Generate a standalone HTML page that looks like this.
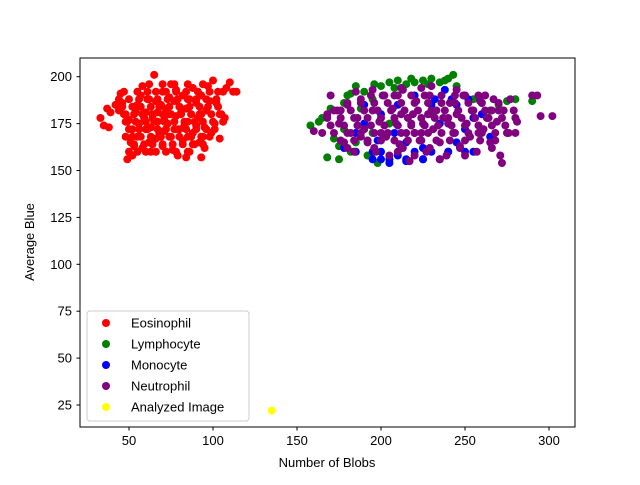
<!DOCTYPE html>
<html><head><meta charset="utf-8"><style>
body{margin:0;background:#fff}
svg{font-family:"Liberation Sans","DejaVu Sans",sans-serif}
</style></head><body>
<svg id="chart" width="640" height="480" xmlns="http://www.w3.org/2000/svg">
<rect x="0" y="0" width="640" height="480" fill="#fff"/>
<g id="marks"></g>
<rect x="80" y="58" width="495" height="369" fill="none" stroke="#000" stroke-width="1"/>
<g id="ticks" font-size="13"></g>
<text x="327" y="467" font-size="13" text-anchor="middle">Number of Blobs</text>
<text x="34" y="242" font-size="13" text-anchor="middle" transform="rotate(-90 34 242)">Average Blue</text>
<g id="legend">
<rect x="87" y="311" width="162" height="110" rx="3" fill="#fff" fill-opacity="0.8" stroke="#ccc"/>
</g>
</svg>
<script>
const xTicks=[50,100,150,200,250,300];
const yTicks=[25,50,75,100,125,150,175,200];
const seriesNames=["Eosinophil","Lymphocyte","Monocyte","Neutrophil","Analyzed Image"];
const seriesColors=["red","green","blue","purple","yellow"];
const eosinophil=[[33,178],[35,174],[38,173],[37,183],[39,181],[42,185],[44,188],[45,191],[47,192],[48,180],[49,176],[50,160],[49,156],[52,158],[53,163],[55,168],[55,185],[57,190],[58,195],[60,181],[60,172],[62,165],[63,160],[65,201],[66,187],[67,176],[68,170],[70,163],[70,192],[72,183],[73,175],[75,168],[75,196],[77,187],[78,179],[79,158],[80,172],[82,166],[82,190],[84,183],[85,176],[86,160],[88,194],[88,170],[90,186],[91,178],[92,165],[93,190],[95,173],[96,182],[97,195],[99,170],[100,198],[102,186],[103,192],[105,180],[107,178],[108,194],[110,197],[112,192],[114,192],[56,175],[58,162],[61,188],[64,178],[66,167],[69,185],[71,171],[74,189],[76,161],[78,193],[81,181],[83,174],[86,188],[89,164],[92,180],[94,168],[98,187],[101,175],[104,167],[52,172],[54,181],[59,178],[63,173],[67,181],[71,177],[74,180],[77,172],[80,184],[85,168],[87,180],[90,174],[95,162],[46,186],[44,182],[50,177],[48,168],[51,165],[93,157],[84,157]];
const eosinophilRows=[[160,[55,60,66,72,78,85]],[164,[53,59,64,70,76,82,88,94]],[168,[52,57,63,69,74,80,87,93,98]],[172,[50,56,61,67,72,78,84,90,96,101]],[176,[48,54,60,65,71,77,83,89,94,100,106]],[180,[47,53,58,64,70,75,81,87,93,99,104]],[184,[46,52,57,63,68,74,80,86,92,97,103]],[188,[50,56,62,67,73,79,85,90,96,102]],[192,[55,61,66,72,78,84,91,98,106]],[196,[62,70,77,85,94]]];
const lymphocyte=[[158,174],[165,178],[168,157],[170,183],[175,156],[178,186],[180,190],[182,160],[185,195],[190,192],[195,188],[198,154],[200,195],[205,197],[210,198],[215,196],[220,197],[225,198],[230,199],[235,197],[240,199],[243,201],[245,195],[250,190],[255,188],[260,186],[265,182],[270,185],[275,187],[280,188],[290,187],[178,172],[185,165],[195,170],[205,175],[230,180],[175,163],[188,183],[192,158],[196,196],[208,194],[218,199],[228,196],[238,198],[182,191],[172,167],[163,176]];
const monocyte=[[178,162],[185,170],[190,175],[195,160],[200,156],[205,154],[210,158],[215,165],[220,170],[225,156],[230,160],[235,175],[238,193],[240,160],[245,165],[250,172],[255,178],[260,180],[265,168],[210,185],[220,190],[200,180],[230,185],[215,155],[225,162],[245,185],[208,170],[198,166],[190,185],[255,160]];
const monocyteRows=[[156,[195,205,215,225,235]],[160,[185,200,220,240,250]],[188,[232,242,252]]];
const neutrophil=[[160,171],[165,170],[168,180],[170,190],[172,182],[175,175],[178,165],[180,185],[182,170],[184,160],[186,178],[188,188],[190,172],[192,165],[195,182],[197,160],[199,176],[201,190],[203,168],[205,158],[207,183],[209,175],[211,164],[213,193],[215,170],[217,155],[219,180],[221,187],[223,166],[225,175],[227,160],[229,190],[231,172],[233,182],[235,165],[237,178],[239,158],[241,186],[243,170],[245,180],[247,163],[249,190],[251,175],[253,168],[255,182],[257,160],[259,187],[261,172],[263,178],[265,165],[267,188],[269,176],[271,158],[273,182],[275,170],[277,188],[279,182],[281,176],[272,154],[290,190],[293,190],[295,179],[302,179],[280,170],[262,190],[185,192],[195,193],[208,190],[230,195],[245,193],[210,160],[220,158],[235,156],[250,158],[200,170],[218,175],[228,180],[240,175],[188,168],[176,182],[212,180],[224,170],[236,190],[258,170],[266,182]];
const neutrophilRows=[[162,[180,196,213,229,247,266]],[166,[176,184,192,200,208,216,224,233,241,250,259,268]],[170,[172,180,188,196,204,212,220,228,236,244,252,260,268,276]],[174,[170,178,186,194,202,210,218,226,234,242,250,258,266,274]],[178,[168,176,184,192,200,208,216,224,232,240,248,256,264,272,280]],[182,[174,182,190,198,206,214,222,230,238,246,254,262,270]],[186,[180,188,196,204,212,220,228,236,244,252,260,270]],[190,[194,202,210,218,226,244,250,258]],[194,[212,224]]];
const analyzed=[[135,22]];
const NS="http://www.w3.org/2000/svg";
function X(v){return 129+(v-50)*1.68;}
function Y(v){return 405-(v-25)*1.876;}
function expand(rows){const out=[];rows.forEach(r=>r[1].forEach(x=>out.push([x,r[0]])));return out;}
const allSeries=[eosinophil.concat(expand(eosinophilRows)),lymphocyte,monocyte.concat(expand(monocyteRows)),neutrophil.concat(expand(neutrophilRows)),analyzed];
const marks=document.getElementById('marks');
allSeries.forEach((s,i)=>{s.forEach(p=>{
 const c=document.createElementNS(NS,'circle');
 c.setAttribute('cx',X(p[0]));c.setAttribute('cy',Y(p[1]));c.setAttribute('r',4);c.setAttribute('fill',seriesColors[i]);
 
 
 marks.appendChild(c);});});
const tg=document.getElementById('ticks');
xTicks.forEach(t=>{
 const l=document.createElementNS(NS,'line');l.setAttribute('x1',X(t));l.setAttribute('x2',X(t));l.setAttribute('y1',427);l.setAttribute('y2',430.5);l.setAttribute('stroke','#000');tg.appendChild(l);
 const tx=document.createElementNS(NS,'text');tx.setAttribute('x',X(t));tx.setAttribute('y',445);tx.setAttribute('text-anchor','middle');tx.textContent=t;
 
 
 tg.appendChild(tx);});
yTicks.forEach(t=>{
 const l=document.createElementNS(NS,'line');l.setAttribute('x1',76.5);l.setAttribute('x2',80);l.setAttribute('y1',Y(t));l.setAttribute('y2',Y(t));l.setAttribute('stroke','#000');tg.appendChild(l);
 const tx=document.createElementNS(NS,'text');tx.setAttribute('x',72);tx.setAttribute('y',Y(t)+4.5);tx.setAttribute('text-anchor','end');tx.textContent=t;
 
 
 tg.appendChild(tx);});
const lg=document.getElementById('legend');
seriesNames.forEach((n,i)=>{
 const y=323+i*21;
 const c=document.createElementNS(NS,'circle');c.setAttribute('cx',106);c.setAttribute('cy',y);c.setAttribute('r',4);c.setAttribute('fill',seriesColors[i]);lg.appendChild(c);
 const t=document.createElementNS(NS,'text');t.setAttribute('x',131);t.setAttribute('y',y+4.5);t.setAttribute('font-size','13');t.textContent=n;
 
 
 lg.appendChild(t);});
</script>
</body></html>
